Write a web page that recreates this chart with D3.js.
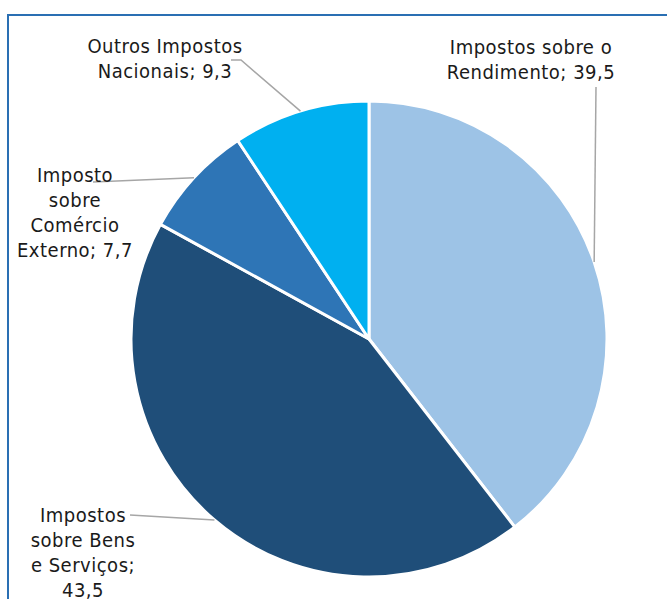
<!DOCTYPE html>
<html>
<head>
<meta charset="utf-8">
<script src="https://cdn.jsdelivr.net/npm/d3@7"></script>
<style>
  html, body { margin: 0; padding: 0; background: #fff; }
  svg { display: block; }
  text { font-family: "DejaVu Sans Condensed", "DejaVu Sans", sans-serif; fill: #1a1a1a; }
</style>
</head>
<body>
<svg id="chart" width="667" height="599"></svg>
<script>
// Receita fiscal por tipo de imposto (%)
const categories = [
  "Impostos sobre o Rendimento",
  "Impostos sobre Bens e Serviços",
  "Imposto sobre Comércio Externo",
  "Outros Impostos Nacionais"
];
const values = [39.5, 43.5, 7.7, 9.3];
const valueLabels = ["39,5", "43,5", "7,7", "9,3"];
const labelLines = [
  ["Impostos sobre o", "Rendimento; 39,5"],
  ["Impostos", "sobre Bens", "e Serviços;", "43,5"],
  ["Imposto", "sobre", "Comércio", "Externo; 7,7"],
  ["Outros Impostos", "Nacionais; 9,3"]
];
const colors = ["#9dc3e6", "#1f4e79", "#2e75b6", "#00b0f0"];

// label placement: text centre, first baseline, and leader start/elbow
const labelLayout = [
  { x: 531, y: 54, start: [596, 87], elbow: null },
  { x: 83,  y: 522, start: [130, 515], elbow: null },
  { x: 75,  y: 182, start: [93, 182], elbow: null },
  { x: 165, y: 53, start: [231, 60], elbow: [241, 60] }
];

const svg = d3.select("#chart");
const cx = 369, cy = 339, r = 238;
const lineH = 25;

// frame
svg.append("rect")
  .attr("x", 8).attr("y", 15)
  .attr("width", 700).attr("height", 700)
  .attr("fill", "none")
  .attr("stroke", "#2a6fb3")
  .attr("stroke-width", 2);

const data = categories.map((c, i) => ({ name: c, value: values[i], i }));
const pie = d3.pie().value(d => d.value).sort(null);
const arcs = pie(data);
const arc = d3.arc().innerRadius(0).outerRadius(r);

const g = svg.append("g").attr("transform", `translate(${cx},${cy})`);
g.selectAll("path")
  .data(arcs)
  .join("path")
  .attr("d", arc)
  .attr("fill", d => colors[d.data.i])
  .attr("stroke", "#fff")
  .attr("stroke-width", 3)
  .attr("stroke-linejoin", "round");

// leader lines to slice mid-angle on the rim
arcs.forEach(a => {
  const L = labelLayout[a.data.i];
  const mid = (a.startAngle + a.endAngle) / 2;
  const ex = cx + r * Math.sin(mid), ey = cy - r * Math.cos(mid);
  const pts = [L.start];
  if (L.elbow) pts.push(L.elbow);
  pts.push([ex, ey]);
  svg.append("path")
    .attr("d", d3.line()(pts))
    .attr("fill", "none")
    .attr("stroke", "#a6a6a6")
    .attr("stroke-width", 1.5);
});

// labels
labelLines.forEach((lines, i) => {
  const L = labelLayout[i];
  const t = svg.append("text")
    .attr("text-anchor", "middle")
    .attr("font-size", 20)
    .attr("letter-spacing", 0.5);
  lines.forEach((s, k) => {
    t.append("tspan").attr("x", L.x).attr("y", L.y + k * lineH).text(s);
  });
});
</script>
</body>
</html>
